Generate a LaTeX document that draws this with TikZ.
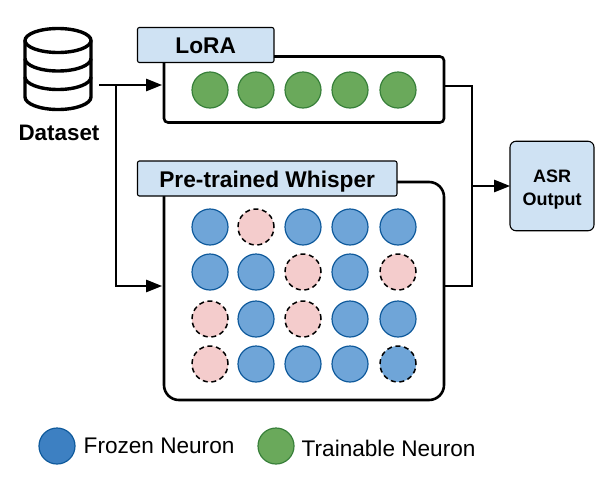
\documentclass[tikz,border=0pt]{standalone}
\usepackage{fontspec}
\setmainfont{Liberation Sans}
\usetikzlibrary{arrows.meta,calc}
\definecolor{tabblue}{HTML}{CFE2F3}
\definecolor{frozenfill}{HTML}{6FA5D8}
\definecolor{frozenline}{HTML}{0F5A9C}
\definecolor{legendblue}{HTML}{3D80C2}
\definecolor{greenfill}{HTML}{6AA95B}
\definecolor{greenline}{HTML}{38803A}
\definecolor{pinkfill}{HTML}{F4CCCC}
\tikzset{
  panel/.style={draw=black,line width=2.6pt,fill=white,inner sep=0pt,outer sep=0pt,anchor=north west},
  tabbox/.style={draw=black,line width=1.1pt,fill=tabblue,rounded corners=2pt,inner sep=0pt,outer sep=0pt,text height=17pt,text depth=0pt,font=\fontsize{22.7}{24}\selectfont\bfseries},
  neuron/.style={circle,minimum size=36pt,inner sep=0pt,outer sep=0pt,line width=1.2pt},
  frozen/.style={neuron,fill=frozenfill,draw=frozenline},
  trainable/.style={neuron,fill=greenfill,draw=greenline},
  replaced/.style={neuron,fill=pinkfill,draw=black,line width=1.5pt,dash pattern=on 5pt off 3.6pt},
  replacedblue/.style={neuron,fill=frozenfill,draw=black,line width=1.5pt,dash pattern=on 5pt off 3.6pt},
  wire/.style={draw=black,line width=1.3pt},
  arrowwire/.style={wire,-{Triangle[length=16pt,width=12.5pt]}},
  legendtext/.style={anchor=base west,inner sep=0pt,font=\fontsize{22.6}{24}\selectfont},
}
\begin{document}
\begin{tikzpicture}[x=1pt,y=-1pt]
\useasboundingbox (0,0) rectangle (601,482);
% panels
\node[panel,rounded corners=4pt,minimum width=280pt,minimum height=66pt] (lora) at (164,56.5) {};
\node[panel,rounded corners=15pt,minimum width=280pt,minimum height=218pt] (whisper) at (164,182) {};
% tabs
\node[tabbox,minimum width=136.5pt,minimum height=35pt] (loratab) at (205.7,45) {LoRA};
\node[tabbox,minimum width=259.5pt,minimum height=35pt] (whispertab) at (267.2,178.5) {Pre-trained Whisper};
% output
\node[draw=black,line width=1.1pt,fill=tabblue,rounded corners=6pt,outer sep=0pt,minimum width=84pt,minimum height=89.5pt,inner sep=0pt,align=center,font=\fontsize{18}{23}\selectfont\bfseries] (output) at (552,186) {\rule{0pt}{19pt}ASR\\Output};
% dataset cylinder
\node[inner sep=0pt,minimum width=66pt,minimum height=82pt] (dataseticon) at (58,69.5) {};
\draw[line width=3.4pt,line join=round] (25,41) -- (25,97) arc[start angle=180,end angle=0,x radius=33,y radius=12.5] -- (91,41);
\draw[line width=3.4pt] (58,40.5) ellipse[x radius=33,y radius=12];
\draw[line width=3.4pt] (25,58.5) arc[start angle=180,end angle=0,x radius=33,y radius=12.5];
\draw[line width=3.4pt] (25,77) arc[start angle=180,end angle=0,x radius=33,y radius=12.5];
\node[inner sep=0pt,font=\fontsize{22.4}{24}\selectfont\bfseries] (datasetlabel) at (59,133) {Dataset};
% LoRA neurons
\foreach \n/\x in {1/210,2/256,3/303,4/350,5/398}{
  \node[trainable] (g\n) at (\x,90) {};
}
% Whisper neurons
\node[frozen] (a1) at (210,227) {};
\node[replaced] (a2) at (256,227) {};
\node[frozen] (a3) at (303,227) {};
\node[frozen] (a4) at (350,227) {};
\node[frozen] (a5) at (398,227) {};
\node[frozen] (b1) at (210,272) {};
\node[frozen] (b2) at (256,272) {};
\node[replaced] (b3) at (303,272) {};
\node[frozen] (b4) at (350,272) {};
\node[replaced] (b5) at (398,272) {};
\node[replaced] (c1) at (210,319) {};
\node[frozen] (c2) at (256,319) {};
\node[replaced] (c3) at (303,319) {};
\node[frozen] (c4) at (350,319) {};
\node[frozen] (c5) at (398,319) {};
\node[replaced] (d1) at (210,364) {};
\node[frozen] (d2) at (256,364) {};
\node[frozen] (d3) at (303,364) {};
\node[frozen] (d4) at (350,364) {};
\node[replacedblue] (d5) at (398,364) {};
% connector ends
\coordinate (dsout) at (99,85);
\coordinate (split) at (116,85);
\coordinate (lorain) at ($(lora.west)+(-2,-4.5)$);
\coordinate (whisperin) at ($(whisper.west)+(-2,-5)$);
\coordinate (loraout) at ($(lora.east)+(1.3,-3.5)$);
\coordinate (whisperout) at ($(whisper.east)+(1.3,-5)$);
\coordinate (merge) at (472,186);
% connectors
\draw[arrowwire] (dsout) -- (lorain);
\draw[arrowwire] (split) |- (whisperin);
\draw[wire] (loraout) -| (merge);
\draw[wire] (whisperout) -| (merge);
\draw[arrowwire] (merge) -- (output.west);
% legend
\node[neuron,fill=legendblue,draw=frozenline] (legfrozen) at (57,446) {};
\node[legendtext] (legfrozentext) at (83.5,453) {Frozen Neuron};
\node[trainable] (legtrain) at (276,446) {};
\node[legendtext] (legtraintext) at (301.5,456) {Trainable Neuron};
\end{tikzpicture}
\end{document}
